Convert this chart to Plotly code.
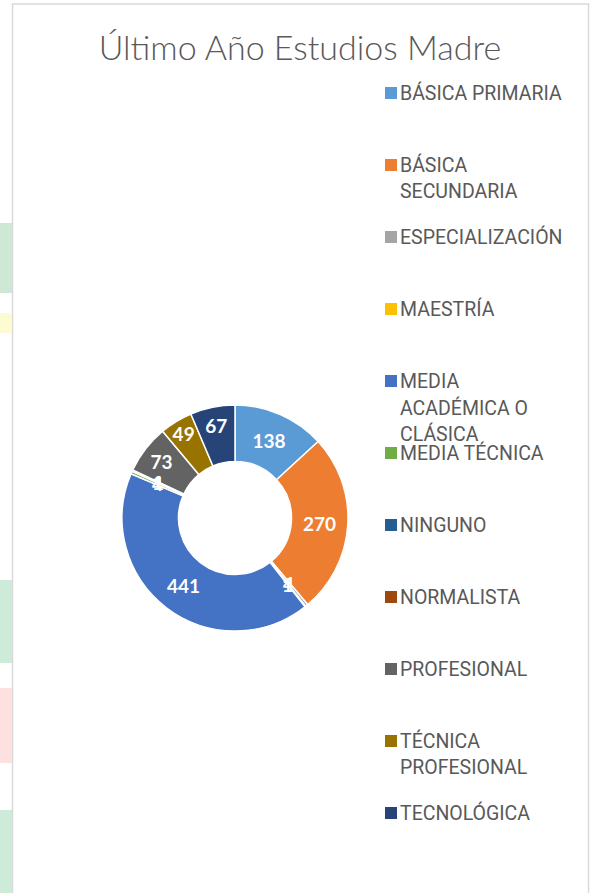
import math
import plotly.graph_objects as go

categories = ["BÁSICA PRIMARIA", "BÁSICA SECUNDARIA", "ESPECIALIZACIÓN", "MAESTRÍA",
              "MEDIA ACADÉMICA O CLÁSICA", "MEDIA TÉCNICA", "NINGUNO", "NORMALISTA",
              "PROFESIONAL", "TÉCNICA PROFESIONAL", "TECNOLÓGICA"]
values = [138, 270, 4, 1, 441, 4, 1, 1, 73, 49, 67]
legend_labels = ["BÁSICA PRIMARIA", "BÁSICA<br>SECUNDARIA", "ESPECIALIZACIÓN", "MAESTRÍA",
                 "MEDIA<br>ACADÉMICA O<br>CLÁSICA", "MEDIA TÉCNICA", "NINGUNO", "NORMALISTA",
                 "PROFESIONAL", "TÉCNICA<br>PROFESIONAL", "TECNOLÓGICA"]
colors = ["#5B9BD5", "#ED7D31", "#A5A5A5", "#FFC000", "#4472C4", "#70AD47",
          "#255E91", "#9E480E", "#636363", "#997300", "#264478"]
title = "Último Año Estudios Madre"

W, H = 590, 893
cx, cy, R = 235, 518, 113
HOLE = 0.5
SMALL = 10

# big slices get plotly's own inside labels; tiny ones are labelled at ring centre like Excel
slice_text = [str(v) if v >= SMALL else "" for v in values]

fig = go.Figure()
fig.add_trace(go.Pie(
    labels=categories, values=values, sort=False, direction="clockwise", rotation=0,
    hole=HOLE,
    marker=dict(colors=colors, line=dict(color="white", width=1.5)),
    text=slice_text, texttemplate="%{text}", textposition="inside",
    insidetextorientation="horizontal",
    textfont=dict(color="white", size=19, family="Lato", weight="bold"),
    domain=dict(x=[(cx - R) / W, (cx + R) / W], y=[(H - cy - R) / H, (H - cy + R) / H]),
    showlegend=False,
))

shapes = []
annotations = []

total = sum(values)
cum = 0
r_mid = R * (1 + HOLE) / 2
for v in values:
    mid = (cum + v / 2) / total * 2 * math.pi
    cum += v
    if v < SMALL:
        annotations.append(dict(text=str(v), xref="paper", yref="paper",
                                x=(cx + r_mid * math.sin(mid)) / W,
                                y=(H - cy + r_mid * math.cos(mid)) / H,
                                xanchor="center", yanchor="middle", showarrow=False,
                                font=dict(color="white", size=19, family="Lato", weight="bold")))

# chart area border
shapes.append(dict(type="rect", xref="paper", yref="paper", x0=12.5 / W, x1=588.5 / W,
                   y0=-0.02, y1=(H - 4) / H, line=dict(color="#D9D9D9", width=1.5),
                   fillcolor="rgba(0,0,0,0)", layer="below"))
# faint background watermark at left edge
for (y0, y1, col) in [(223, 293, "#CDE9D6"), (313, 333, "#FDFBD0"), (580, 663, "#CDEBD8"),
                      (688, 763, "#FDE0E0"), (810, 893, "#CDEBD8")]:
    shapes.append(dict(type="rect", xref="paper", yref="paper", x0=0, x1=12 / W,
                       y0=(H - y1) / H, y1=(H - y0) / H, line=dict(width=0),
                       fillcolor=col, layer="below"))

# legend drawn manually
y_first, step, line_h = 93, 72, 26.5
for i, (lab, col) in enumerate(zip(legend_labels, colors)):
    yc = y_first + step * i
    shapes.append(dict(type="rect", xref="paper", yref="paper",
                       x0=385 / W, x1=397 / W, y0=(H - yc - 6) / H, y1=(H - yc + 6) / H,
                       line=dict(width=0), fillcolor=col))
    for j, part in enumerate(lab.split("<br>")):
        annotations.append(dict(text=part, xref="paper", yref="paper", x=398 / W,
                                y=(H - yc - j * line_h) / H, xanchor="left", yanchor="middle",
                                showarrow=False,
                                font=dict(family="Roboto", size=19.5, color="#595959")))

fig.update_layout(
    width=W, height=H, margin=dict(l=0, r=0, t=0, b=0),
    paper_bgcolor="white", plot_bgcolor="white",
    title=dict(text=title, x=300 / W, xanchor="center", y=1 - 48 / H, yanchor="middle",
               yref="container", font=dict(family="Lato", size=34, weight=300, color="#595959")),
    uniformtext=dict(minsize=19, mode="show"),
    shapes=shapes, annotations=annotations,
)
fig.write_html("out.html", config={"displayModeBar": False},
               post_script="document.body.style.margin='0';document.body.style.overflow='hidden';")
